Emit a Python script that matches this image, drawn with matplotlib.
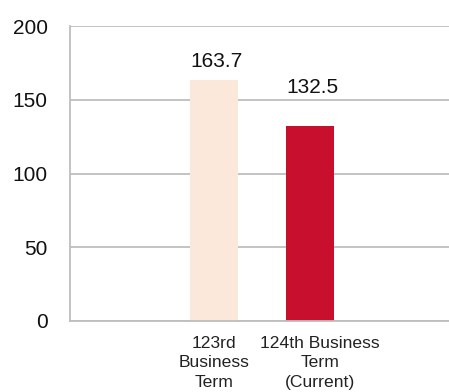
import matplotlib
matplotlib.use("Agg")
import matplotlib.pyplot as plt
from matplotlib.transforms import ScaledTranslation

plt.rcParams['font.family'] = ['Liberation Sans', 'DejaVu Sans']

categories = ["", "123rd\nBusiness\nTerm", "124th Business\nTerm\n(Current)", ""]
values = [None, 163.7, 132.5, None]
labels = ["", "163.7", "132.5", ""]
colors = [None, "#FCE8DA", "#C8102E", None]
yticks = [0, 50, 100, 150, 200]

fig = plt.figure(figsize=(4.49, 3.92), dpi=100)
ax = fig.add_axes([70/449, 1 - 321/392, 390/449, (321-26)/392])

xs = list(range(len(categories)))
for x, v, c in zip(xs, values, colors):
    if v is not None:
        ax.bar(x, v, width=0.5, color=c, zorder=2)

# value labels (offsets mimic original placement)
offsets = [0, 13, 33, 0]
for x, v, lab, off in zip(xs, values, labels, offsets):
    if v is not None:
        ax.annotate(lab, (x, v), xytext=(2, off), textcoords="offset pixels",
                    ha="center", va="baseline", fontsize=15, color="#111111")

ax.set_xlim(-0.5, 3.56)
ax.set_ylim(0, 200)
ax.set_yticks(yticks)
ax.set_yticklabels([str(t) for t in yticks], fontsize=15, color="#111111")
ax.tick_params(axis='y', length=0, pad=16)
ax.set_xticks(xs)
ax.set_xticklabels(categories, fontsize=12.6, color="#222222", linespacing=1.35)
ax.tick_params(axis='x', length=0, pad=11)
for t in ax.get_xticklabels():
    t.set_multialignment('center')
lab2 = ax.get_xticklabels()[2]
lab2.set_transform(lab2.get_transform() + ScaledTranslation(0.1, 0, fig.dpi_scale_trans))

ax.yaxis.grid(True, color="#BEBEBE", linewidth=1.3, zorder=0)
for s in ["top", "right"]:
    ax.spines[s].set_visible(False)
ax.spines["left"].set_color("#BEBEBE")
ax.spines["bottom"].set_color("#BEBEBE")
ax.spines["left"].set_linewidth(1.3)
ax.spines["bottom"].set_linewidth(1.3)

fig.savefig("out.png", dpi=100)
